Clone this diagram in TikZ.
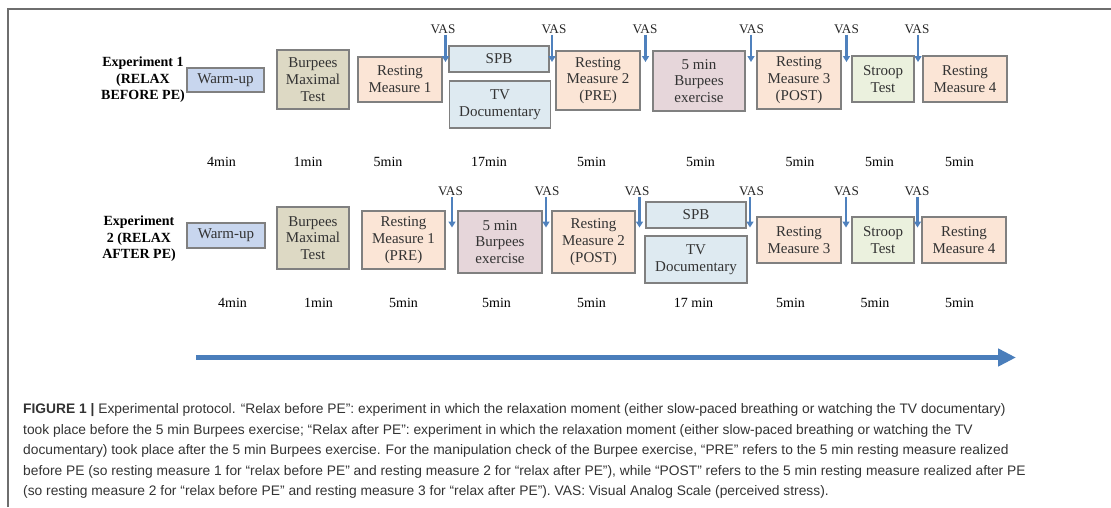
\documentclass[tikz,border=0pt]{standalone}
\usepackage{fontspec}
\setmainfont{Liberation Serif}
\newfontfamily\capfont{Liberation Sans}
\usepackage{tikz}
\usetikzlibrary{arrows.meta, positioning}
\definecolor{warmfill}{RGB}{200,214,238}
\definecolor{burpfill}{RGB}{221,217,196}
\definecolor{restfill}{RGB}{251,229,214}
\definecolor{docfill}{RGB}{222,234,241}
\definecolor{exfill}{RGB}{230,214,218}
\definecolor{stroopfill}{RGB}{235,241,222}
\definecolor{boxline}{RGB}{128,128,128}
\definecolor{vasblue}{RGB}{79,129,189}
\definecolor{timeblue}{RGB}{74,126,187}
\definecolor{capgray}{RGB}{51,51,51}
\definecolor{framegray}{RGB}{110,110,110}
\tikzstyle{taskbox} = [rectangle, draw=boxline, line width=1.3pt, inner sep=1pt, align=center,
                       font=\fontsize{15}{16.8}\selectfont, text=black!80]
\tikzstyle{vaslabel} = [font=\fontsize{13.2}{15}\selectfont, inner sep=1pt, text=black!85]
\tikzstyle{timelabel} = [font=\fontsize{14}{16}\selectfont, inner sep=0pt]
\tikzstyle{explabel} = [font=\fontsize{14}{16.5}\selectfont\bfseries, align=center, inner sep=0pt]
\tikzstyle{vasarrow} = [line width=2.3pt, draw=vasblue, -{Triangle[length=6pt,width=7pt]}]
\tikzstyle{timearrow} = [line width=5pt, draw=timeblue, -{Triangle[length=18pt,width=17pt]}]
\tikzstyle{capline} = [anchor=west, font=\capfont\fontsize{13.8}{15}\selectfont, text=capgray, inner sep=0pt]

\begin{document}
\begin{tikzpicture}[x=1pt, y=-1pt]
    \useasboundingbox (0,0) rectangle (1111,507);
    % Frame
    \draw[framegray, line width=2pt] (8,507) -- (8,9) -- (1111,9);

    % Experiment 1 (relax before PE)
    \node[explabel] (expA) at (143,80) {Experiment 1\\(RELAX\\BEFORE PE)};
    \node[taskbox, fill=warmfill, minimum width=77pt, minimum height=24pt] (warmA) at (225.5,80) {Warm-up};
    \node[taskbox, fill=burpfill, minimum width=72pt, minimum height=59pt] (maxA) at (313,79.5) {Burpees\\Maximal\\Test};
    \node[taskbox, fill=restfill, minimum width=84pt, minimum height=45pt] (restA1) at (400,79.5) {Resting\\Measure 1};
    \node[taskbox, fill=docfill, minimum width=100pt, minimum height=26pt] (spbA) at (499,59) {SPB};
    \node[taskbox, fill=docfill, minimum width=101pt, minimum height=47pt] (tvA) at (500,104.5) {TV\\Documentary};
    \node[taskbox, fill=restfill, minimum width=84pt, minimum height=59pt] (restA2) at (598,80.5) {Resting\\Measure 2\\(PRE)};
    \node[taskbox, fill=exfill, minimum width=92pt, minimum height=60pt] (exA) at (699,81) {5 min\\Burpees\\exercise};
    \node[taskbox, fill=restfill, minimum width=84pt, minimum height=58pt] (restA3) at (799,80) {Resting\\Measure 3\\(POST)};
    \node[taskbox, fill=stroopfill, minimum width=62pt, minimum height=46pt] (stroopA) at (883,79) {Stroop\\Test};
    \node[taskbox, fill=restfill, minimum width=84pt, minimum height=46pt] (restA4) at (965,79) {Resting\\Measure 4};

    % VAS points, experiment 1
    \node[vaslabel] (vasA1) at (443,29) {VAS};
    \node[vaslabel] (vasA2) at (554,29) {VAS};
    \node[vaslabel] (vasA3) at (645,29) {VAS};
    \node[vaslabel] (vasA4) at (751.5,29) {VAS};
    \node[vaslabel] (vasA5) at (846.5,29) {VAS};
    \node[vaslabel] (vasA6) at (917,29) {VAS};
    \coordinate (tipA1) at (445.5,62);
    \coordinate (tipA2) at (552,62);
    \coordinate (tipA3) at (645.5,62);
    \coordinate (tipA4) at (751,62);
    \coordinate (tipA5) at (846.5,62);
    \coordinate (tipA6) at (918,62);
    \draw[vasarrow] (vasA1.south -| tipA1) -- (tipA1);
    \draw[vasarrow] (vasA2.south -| tipA2) -- (tipA2);
    \draw[vasarrow] (vasA3.south -| tipA3) -- (tipA3);
    \draw[vasarrow] (vasA4.south -| tipA4) -- (tipA4);
    \draw[vasarrow] (vasA5.south -| tipA5) -- (tipA5);
    \draw[vasarrow] (vasA6.south -| tipA6) -- (tipA6);

    % Durations, experiment 1
    \node[timelabel] (tA1) at (221.5,161.5) {4min};
    \node[timelabel] (tA2) at (308,161.5) {1min};
    \node[timelabel] (tA3) at (388,161.5) {5min};
    \node[timelabel] (tA4) at (489,161.5) {17min};
    \node[timelabel] (tA5) at (591.5,161.5) {5min};
    \node[timelabel] (tA6) at (700.5,161.5) {5min};
    \node[timelabel] (tA7) at (800,161.5) {5min};
    \node[timelabel] (tA8) at (879.5,161.5) {5min};
    \node[timelabel] (tA9) at (959.5,161.5) {5min};

    % Experiment 2 (relax after PE)
    \node[explabel] (expB) at (139,239) {Experiment\\2 (RELAX\\AFTER PE)};
    \node[taskbox, fill=warmfill, minimum width=78pt, minimum height=25pt] (warmB) at (226,235.5) {Warm-up};
    \node[taskbox, fill=burpfill, minimum width=72pt, minimum height=62pt] (maxB) at (313,238) {Burpees\\Maximal\\Test};
    \node[taskbox, fill=restfill, minimum width=83pt, minimum height=58pt] (restB1) at (403.5,240) {Resting\\Measure 1\\(PRE)};
    \node[taskbox, fill=exfill, minimum width=84pt, minimum height=62pt] (exB) at (500,242) {5 min\\Burpees\\exercise};
    \node[taskbox, fill=restfill, minimum width=83pt, minimum height=62pt] (restB2) at (593.5,242) {Resting\\Measure 2\\(POST)};
    \node[taskbox, fill=docfill, minimum width=100pt, minimum height=26pt] (spbB) at (696,215) {SPB};
    \node[taskbox, fill=docfill, minimum width=102pt, minimum height=47pt] (tvB) at (696,259.5) {TV\\Documentary};
    \node[taskbox, fill=restfill, minimum width=84pt, minimum height=46pt] (restB3) at (799,240) {Resting\\Measure 3};
    \node[taskbox, fill=stroopfill, minimum width=62pt, minimum height=46pt] (stroopB) at (883,240) {Stroop\\Test};
    \node[taskbox, fill=restfill, minimum width=84pt, minimum height=46pt] (restB4) at (964,240) {Resting\\Measure 4};

    % VAS points, experiment 2
    \node[vaslabel] (vasB1) at (450.5,191.5) {VAS};
    \node[vaslabel] (vasB2) at (547,191.5) {VAS};
    \node[vaslabel] (vasB3) at (637,191.5) {VAS};
    \node[vaslabel] (vasB4) at (751.5,191.5) {VAS};
    \node[vaslabel] (vasB5) at (846.5,191.5) {VAS};
    \node[vaslabel] (vasB6) at (917,191.5) {VAS};
    \coordinate (tipB1) at (452,227.5);
    \coordinate (tipB2) at (546,227.5);
    \coordinate (tipB3) at (639.5,227.5);
    \coordinate (tipB4) at (750,227.5);
    \coordinate (tipB5) at (846,227.5);
    \coordinate (tipB6) at (917.5,227.5);
    \draw[vasarrow] (vasB1.south -| tipB1) -- (tipB1);
    \draw[vasarrow] (vasB2.south -| tipB2) -- (tipB2);
    \draw[vasarrow] (vasB3.south -| tipB3) -- (tipB3);
    \draw[vasarrow] (vasB4.south -| tipB4) -- (tipB4);
    \draw[vasarrow] (vasB5.south -| tipB5) -- (tipB5);
    \draw[vasarrow] (vasB6.south -| tipB6) -- (tipB6);

    % Durations, experiment 2
    \node[timelabel] (tB1) at (232.5,302.5) {4min};
    \node[timelabel] (tB2) at (318.5,302.5) {1min};
    \node[timelabel] (tB3) at (403.5,302.5) {5min};
    \node[timelabel] (tB4) at (496.5,302.5) {5min};
    \node[timelabel] (tB5) at (591.5,302.5) {5min};
    \node[timelabel] (tB6) at (693.5,302.5) {17 min};
    \node[timelabel] (tB7) at (790.5,302.5) {5min};
    \node[timelabel] (tB8) at (875,302.5) {5min};
    \node[timelabel] (tB9) at (959.5,302.5) {5min};

    % Time axis
    \coordinate (tstart) at (196,357.5);
    \coordinate (tend) at (1016,357.5);
    \draw[timearrow] (tstart) -- (tend);

    % Caption
    \node[capline] (cap1) at (23,410) {{\bfseries FIGURE 1 |} Experimental protocol. “Relax before PE”: experiment in which the relaxation moment (either slow-paced breathing or watching the TV documentary)};
    \node[capline] (cap2) at (23,430.5) {took place before the 5 min Burpees exercise; “Relax after PE”: experiment in which the relaxation moment (either slow-paced breathing or watching the TV};
    \node[capline] (cap3) at (23,451) {documentary) took place after the 5 min Burpees exercise. For the manipulation check of the Burpee exercise, “PRE” refers to the 5 min resting measure realized};
    \node[capline] (cap4) at (23,471.5) {before PE (so resting measure 1 for “relax before PE” and resting measure 2 for “relax after PE”), while “POST” refers to the 5 min resting measure realized after PE};
    \node[capline] (cap5) at (23,492) {(so resting measure 2 for “relax before PE” and resting measure 3 for “relax after PE”). VAS: Visual Analog Scale (perceived stress).};
\end{tikzpicture}
\end{document}
